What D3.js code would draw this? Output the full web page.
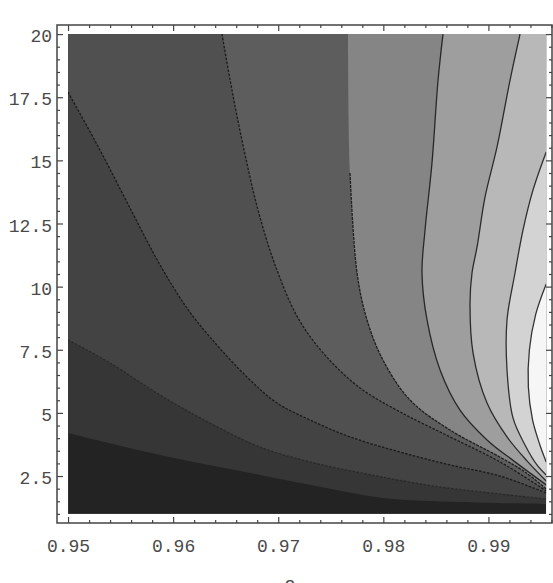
<!DOCTYPE html>
<html>
<head>
<meta charset="utf-8">
<script src="https://cdn.jsdelivr.net/npm/d3@7/dist/d3.min.js"></script>
<style>
  body { margin: 0; background: #fff; }
</style>
</head>
<body>
<div id="chart"></div>
<script>
// Contour lines, [beta, value] pairs, darkest level first
const contourL3 = [[0.95, 4.20], [0.95875, 3.33], [0.96827, 2.54], [0.97303, 2.15], [0.97997, 1.63], [0.98730, 1.47], [0.9955, 1.39]];
const contourL2 = [[0.95, 7.89], [0.95400, 6.98], [0.95875, 5.71], [0.96351, 4.60], [0.96827, 3.65], [0.97303, 3.06], [0.97845, 2.58], [0.98473, 2.11], [0.99110, 1.79], [0.9955, 1.59]];
const contourL1 = [[0.95, 17.70], [0.95304, 15.41], [0.95590, 13.11], [0.95875, 10.86], [0.96132, 9.15], [0.96351, 8.00], [0.96703, 6.42], [0.96989, 5.39], [0.97303, 4.72], [0.97683, 4.05], [0.98159, 3.45], [0.98635, 2.94], [0.99110, 2.50], [0.9955, 1.83]];
const contourT1 = [[0.96465, 20], [0.96560, 17.78], [0.96675, 15.41], [0.96808, 13.03], [0.96970, 10.86], [0.97188, 8.76], [0.97445, 7.29], [0.97778, 5.99], [0.98159, 5.04], [0.98635, 4.05], [0.99110, 3.06], [0.9955, 1.91]];
const contourT2 = [[0.97664, 20], [0.97683, 14.50], [0.97750, 10.54], [0.97845, 8.68], [0.97997, 7.09], [0.98254, 5.51], [0.98635, 4.32], [0.99110, 3.25], [0.99348, 2.66], [0.9955, 1.99]];
const contourT3 = [[0.98568, 20], [0.98521, 18.18], [0.98463, 14.89], [0.98397, 12.24], [0.98368, 10.54], [0.98416, 8.68], [0.98540, 6.70], [0.98730, 5.11], [0.98987, 3.93], [0.99253, 3.06], [0.9955, 2.15]];
const contourT4 = [[0.99301, 20], [0.99206, 18.18], [0.99082, 15.53], [0.98968, 13.55], [0.98892, 11.57], [0.98844, 10.54], [0.98825, 9.35], [0.98854, 7.37], [0.98987, 5.39], [0.99177, 4.05], [0.99367, 3.10], [0.9955, 2.30]];
const contourR1 = [[0.9955, 15.33], [0.99424, 13.82], [0.99329, 12.24], [0.99253, 10.54], [0.99177, 8.68], [0.99177, 6.70], [0.99234, 4.80], [0.99348, 3.73], [0.99462, 2.94], [0.9955, 2.54]];
const contourR2 = [[0.9955, 10.10], [0.99450, 8.90], [0.99390, 7.50], [0.99380, 6.03], [0.99420, 4.72], [0.99490, 3.73], [0.9955, 3.06]];

// gray shade of each band, darkest (bottom left) to lightest
const bandGrays = ["#232323", "#363636", "#434343", "#505050", "#5d5d5d", "#858585", "#9e9e9e", "#b8b8b8", "#d3d3d3", "#f6f6f6"];

const xLimits = [0.95, 0.9955];
const yLimits = [1, 20];
const xTicks = [0.95, 0.96, 0.97, 0.98, 0.99];
const xTickLabels = ["0.95", "0.96", "0.97", "0.98", "0.99"];
const yTicks = [2.5, 5, 7.5, 10, 12.5, 15, 17.5, 20];
const yTickLabels = ["2.5", "5", "7.5", "10", "12.5", "15", "17.5", "20"];

const contours = [contourL3, contourL2, contourL1, contourT1, contourT2, contourT3, contourT4, contourR1, contourR2];

const width = 553, height = 583;
const frameLeft = 57, frameRight = 552, frameTop = 25, frameBottom = 523;

// frame is a bit larger than the plotted range, as Mathematica pads it
const x = d3.scaleLinear().domain([0.94895, 0.99605]).range([frameLeft, frameRight]);
const y = d3.scaleLinear().domain([0.64, 20.36]).range([frameBottom, frameTop]);

const svg = d3.select("#chart").append("svg")
    .attr("width", width)
    .attr("height", height)
    .attr("viewBox", [0, 0, width, height]);

const [x0, x1] = xLimits, [y0, y1] = yLimits;

svg.append("clipPath").attr("id", "plotClip")
  .append("rect")
    .attr("x", x(x0)).attr("y", y(y1))
    .attr("width", x(x1) - x(x0)).attr("height", y(y0) - y(y1));

// position of a boundary point along the rectangle, counter-clockwise
function perim([b, v]) {
  const e = 1e-7;
  if (Math.abs(v - y0) < e) return (b - x0) / (x1 - x0);
  if (Math.abs(b - x1) < e) return 1 + (v - y0) / (y1 - y0);
  if (Math.abs(v - y1) < e) return 2 + (x1 - b) / (x1 - x0);
  return 3 + (y1 - v) / (y1 - y0);
}
const corners = [[x0, y0], [x1, y0], [x1, y1], [x0, y1]];

const curve = d3.line()
    .x(d => x(d[0]))
    .y(d => y(d[1]))
    .curve(d3.curveCatmullRom.alpha(0.5));

function lighterSide(pts) {
  const te = perim(pts[pts.length - 1]);
  let ts = perim(pts[0]);
  if (ts < te) ts += 4;
  let d = curve(pts);
  for (let k = Math.floor(te) + 1; k < ts; k++) {
    const c = corners[k % 4];
    d += `L${x(c[0])},${y(c[1])}`;
  }
  return d + "Z";
}

const plot = svg.append("g").attr("clip-path", "url(#plotClip)");

plot.append("rect")
    .attr("x", x(x0)).attr("y", y(y1))
    .attr("width", x(x1) - x(x0)).attr("height", y(y0) - y(y1))
    .attr("fill", bandGrays[0]);

plot.selectAll("path.band")
  .data(contours)
  .join("path")
    .attr("class", "band")
    .attr("d", d => lighterSide(d))
    .attr("fill", (d, i) => bandGrays[i + 1]);

// contour lines (the black edge has no line, the top of T2 neither)
const drawn = [
  { pts: contourL2, dash: "2.5,1.5", op: 0.45 },
  { pts: contourL1, dash: "2.5,1.5", op: 0.9 },
  { pts: contourT1, dash: "2.5,1.5", op: 0.9 },
  { pts: contourT2.slice(1), dash: "3,1", op: 0.9 },
  { pts: contourT3, dash: null, op: 0.85 },
  { pts: contourT4, dash: null, op: 0.85 },
  { pts: contourR1, dash: null, op: 0.85 },
  { pts: contourR2, dash: null, op: 0.85 }
];
plot.selectAll("path.cline")
  .data(drawn)
  .join("path")
    .attr("class", "cline")
    .attr("d", d => curve(d.pts))
    .attr("fill", "none")
    .attr("stroke", "#151515")
    .attr("stroke-opacity", d => d.op)
    .attr("stroke-dasharray", d => d.dash)
    .attr("stroke-width", 1.3);

// frame
svg.append("rect")
    .attr("x", frameLeft).attr("y", frameTop)
    .attr("width", frameRight - frameLeft).attr("height", frameBottom - frameTop)
    .attr("fill", "none")
    .attr("stroke", "#444")
    .attr("stroke-width", 1.5);

const xMinor = d3.range(0.95, 0.9961, 0.002).filter(v => Math.abs(v * 100 - Math.round(v * 100)) > 1e-6);
const yMinor = d3.range(1, 20.01, 0.5).filter(v => Math.abs(v / 2.5 - Math.round(v / 2.5)) > 1e-6);

const font = "'Liberation Mono', 'Courier New', monospace";

function styleAxis(g) {
  g.select(".domain").remove();
  g.selectAll("line").attr("stroke", "#444").attr("stroke-width", 1.2);
  g.selectAll("text").attr("fill", "#4a4a4a").style("font-family", font).style("font-size", "18px");
}

svg.append("g")
    .attr("transform", `translate(0,${frameBottom})`)
    .call(d3.axisBottom(x).tickValues(xTicks).tickFormat((d, i) => xTickLabels[i]).tickSize(-6).tickPadding(16))
    .call(styleAxis);
svg.append("g")
    .attr("transform", `translate(0,${frameBottom})`)
    .call(d3.axisBottom(x).tickValues(xMinor).tickFormat("").tickSize(-3))
    .call(styleAxis);
svg.append("g")
    .attr("transform", `translate(0,${frameTop})`)
    .call(d3.axisTop(x).tickValues(xTicks).tickFormat("").tickSize(-6))
    .call(styleAxis);
svg.append("g")
    .attr("transform", `translate(0,${frameTop})`)
    .call(d3.axisTop(x).tickValues(xMinor).tickFormat("").tickSize(-3))
    .call(styleAxis);

svg.append("g")
    .attr("transform", `translate(${frameLeft},0)`)
    .call(d3.axisLeft(y).tickValues(yTicks).tickFormat((d, i) => yTickLabels[i]).tickSize(-6).tickPadding(5))
    .call(styleAxis)
    .call(g => g.selectAll("text").attr("dy", "0.42em"));
svg.append("g")
    .attr("transform", `translate(${frameLeft},0)`)
    .call(d3.axisLeft(y).tickValues(yMinor).tickFormat("").tickSize(-3))
    .call(styleAxis);
svg.append("g")
    .attr("transform", `translate(${frameRight},0)`)
    .call(d3.axisRight(y).tickValues(yTicks).tickFormat("").tickSize(-6))
    .call(styleAxis);
svg.append("g")
    .attr("transform", `translate(${frameRight},0)`)
    .call(d3.axisRight(y).tickValues(yMinor).tickFormat("").tickSize(-3))
    .call(styleAxis);

// axis label, only its top shows inside the window (as in the original)
svg.append("text")
    .attr("x", 290)
    .attr("y", 593)
    .attr("text-anchor", "middle")
    .attr("fill", "#4a4a4a")
    .style("font-family", font)
    .style("font-size", "19px")
    .text("β");
</script>
</body>
</html>
